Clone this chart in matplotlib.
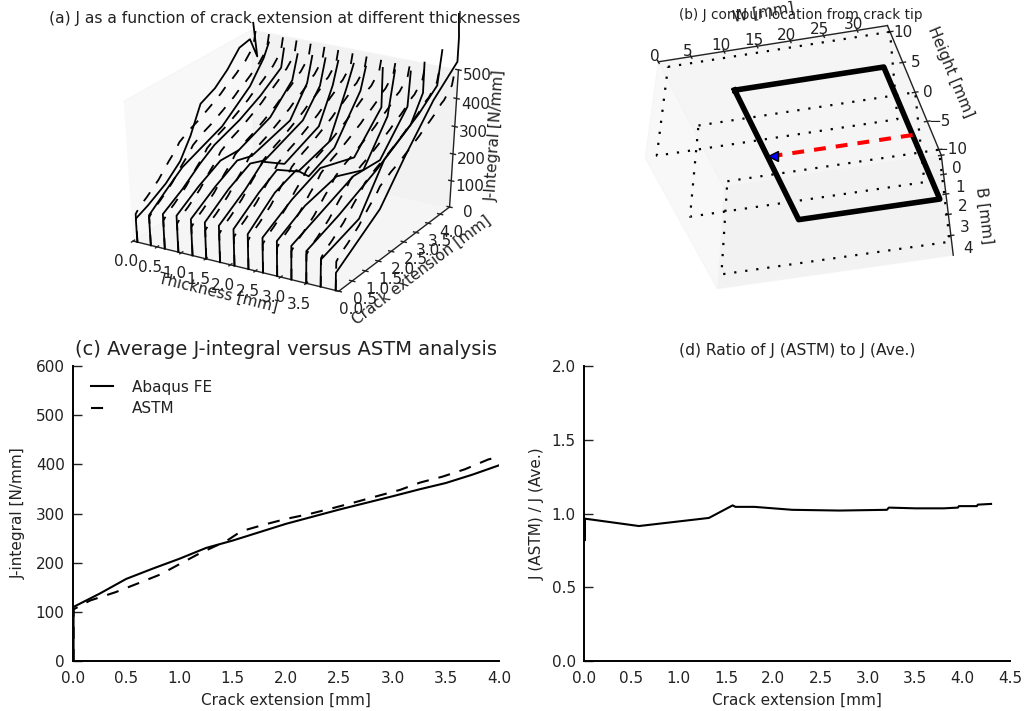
"""J-integral summary figure: 3D curves, contour location, average and ratio."""
import matplotlib
matplotlib.use('Agg')
import matplotlib.pyplot as plt
from mpl_toolkits.mplot3d import Axes3D  # noqa: F401

THICK = [0.09, 0.37, 0.66, 0.94, 1.23, 1.51, 1.79, 2.08, 2.36, 2.65, 2.93, 3.21, 3.50, 3.78, 4.07]

# crack extension and J per thickness station
CURVE_EXT = [
    [0, 0, 0.42, 1.06, 1.58, 1.97, 2.36, 2.88, 3.34, 3.79, 4.18, 4.44, 4.31],
    [0, 0, 0.55, 1.19, 1.84, 2.62, 3.66, 4.18, 4.38],
    [0, 0, 0.68, 1.32, 1.84, 2.75, 3.53, 4.31, 4.42],
    [0, 0, 0.78, 1.56, 2.21, 3.38, 4.22, 4.42],
    [0, 0, 0.87, 1.65, 2.17, 3.60, 4.25, 4.44],
    [0, 0, 0.84, 1.62, 2.14, 3.57, 4.22, 4.42],
    [0, 0, 0.94, 1.58, 2.36, 3.66, 4.18, 4.38],
    [0, 0, 0.91, 1.56, 2.34, 3.51, 4.16, 4.42],
    [0, 0, 0.97, 1.75, 2.21, 3.18, 4.16, 4.35],
    [0, 0, 1.06, 2.10, 3.40, 3.92, 4.44, 4.44],
    [0, 0, 1.01, 2.18, 3.22, 4.13, 4.36],
    [0, 0, 0.97, 2.27, 3.31, 4.35, 4.42],
    [0, 0, 1.17, 2.60, 3.90, 4.35, 4.35],
    [0, 0, 1.40, 2.31, 3.61, 4.32, 4.45],
    [0, 0, 1.61, 2.52, 3.56, 4.47, 4.47, 4.40],
]
CURVE_J = [
    [0, 88, 108, 147, 195, 263, 355, 380, 420, 473, 482, 406, 533],
    [0, 112, 158, 209, 236, 268, 352, 424, 469],
    [0, 129, 173, 225, 260, 294, 336, 392, 455],
    [0, 135, 189, 232, 228, 276, 362, 444],
    [0, 135, 195, 238, 221, 262, 360, 447],
    [0, 135, 198, 240, 218, 275, 362, 449],
    [0, 135, 202, 260, 202, 258, 376, 452],
    [0, 135, 205, 244, 187, 221, 378, 449],
    [0, 129, 212, 242, 189, 231, 378, 453],
    [0, 129, 194, 238, 193, 253, 312, 453],
    [0, 129, 186, 214, 169, 309, 459],
    [0, 124, 165, 220, 211, 341, 461],
    [0, 118, 164, 234, 313, 400, 506],
    [0, 100, 148, 300, 379, 438, 553],
    [0, 65, 181, 309, 441, 522, 605, 692],
]

# panel (c) average curve
AVG_EXT = [0.005, 0.005, 0.25, 0.5, 0.75, 1.0, 1.25, 1.5, 2.0, 2.5, 3.0, 3.25, 3.5, 3.75, 4.0]
AVG_J = [0, 110, 137, 167, 188, 208, 230, 245, 279, 308, 335, 349, 362, 379, 398]

# ASTM curve, same one at every thickness in panel (a)
ASTM_EXT = [0.005, 0.005, 0.16, 0.40, 0.60, 0.82, 1.00, 1.19, 1.44, 1.58, 1.79, 2.00, 2.22, 2.44, 2.65,
            2.85, 3.07, 3.26, 3.47, 3.68, 3.90, 4.00, 4.30, 4.40]
ASTM_J = [0, 105, 123, 140, 157, 176, 197, 219, 244, 264, 277, 289, 299, 311, 323,
          335, 348, 363, 375, 390, 410, 415, 450, 505]

# panel (d) ratio
RATIO_EXT = [0.01, 0.01, 0.58, 1.32, 1.57, 1.60, 1.80, 2.20, 2.70, 3.20, 3.22, 3.50, 3.80, 3.95, 3.96, 4.15, 4.16, 4.30]
RATIO = [0.82, 0.965, 0.915, 0.97, 1.055, 1.045, 1.045, 1.025, 1.02, 1.025, 1.04, 1.035, 1.035, 1.04, 1.05, 1.05, 1.06, 1.065]

# panel (b) contour geometry
W_LEVELS = [1, 34.5]
B_LEVELS = [0, 4.55]
HEIGHTS = [10, 0, -10]
BOX_W = [12, 33.5, 33.5, 12, 12]
BOX_H = [11, 11, -11, -11, 11]
CRACK_W = [33.5, 12.8]
CRACK_H = [0, 0]
B_MID = 2.2

plt.rcParams.update({'font.family': 'DejaVu Sans', 'font.size': 11,
                     'text.color': '#222222', 'axes.labelcolor': '#222222',
                     'xtick.color': '#222222', 'ytick.color': '#222222'})

fig = plt.figure(figsize=(10.25, 7.11), dpi=100)


def px_rect(x0, y0, x1, y1):
    return [x0 / 1025, 1 - y1 / 711, (x1 - x0) / 1025, (y1 - y0) / 711]


def stretch_3d(ax):
    # let the 3d box fill the whole axes rectangle instead of staying square
    def apply_aspect(position=None):
        ax._set_position(ax.get_position(original=True), 'active')
    ax.apply_aspect = apply_aspect


def style_3d(ax, aspect=(1, 1, 1), zoom=0.91):
    stretch_3d(ax)
    ax.set_box_aspect(aspect, zoom=zoom)
    ax.grid(False)
    panes = [(ax.xaxis, (0.95, 0.95, 0.95, 0.5)), (ax.yaxis, (0.90, 0.90, 0.90, 0.5)),
             (ax.zaxis, (0.925, 0.925, 0.925, 0.5))]
    for axis, col in panes:
        axis.set_pane_color(col)
        axis.pane.set_edgecolor((0.95, 0.95, 0.95, 0.5))
        axis.line.set_linewidth(1.0)
        axis.line.set_color('#222222')
        axis._axinfo['tick']['inward_factor'] = 0.15
        axis._axinfo['tick']['outward_factor'] = 0.15
        axis._axinfo['tick']['linewidth'] = {True: 1.0, False: 0.5}
    ax.patch.set_alpha(0)


# (a) J vs crack extension
ax = fig.add_axes(px_rect(75, 13, 501, 308), projection='3d')
style_3d(ax, zoom=0.94)
ax.view_init(elev=33, azim=-60)
for t, ext, j in zip(THICK, CURVE_EXT, CURVE_J):
    ax.plot([t] * len(ext), ext, j, color='k', lw=1.3)
    ax.plot([t] * len(ASTM_EXT), ASTM_EXT, ASTM_J, color='k', lw=1.3, ls=(0, (6, 6)))
ax.set_xlim(0, 4.13)
ax.set_ylim(0, 4.4)
ax.set_zlim(0, 500)
ax.set_xticks([0, 0.5, 1, 1.5, 2, 2.5, 3, 3.5])
ax.set_yticks([0, 0.5, 1, 1.5, 2, 2.5, 3, 3.5, 4])
ax.set_zticks([0, 100, 200, 300, 400, 500])
ax.set_xticklabels(['0.0', '0.5', '1.0', '1.5', '2.0', '2.5', '3.0', '3.5'])
ax.set_yticklabels(['0.0', '0.5', '1.0', '1.5', '2.0', '2.5', '3.0', '3.5', '4.0'])
ax.tick_params(axis='both', pad=0)
ax.set_xlabel('Thickness [mm]', labelpad=-4)
ax.set_ylabel('Crack extension [mm]', labelpad=-4)
ax.set_zlabel('J-Integral [N/mm]', labelpad=-3)
fig.text(284.5 / 1025, 1 - 18 / 711, '(a) J as a function of crack extension at different thicknesses',
         ha='center', va='center', fontsize=11.2)

# (b) contour location
ax = fig.add_axes(px_rect(584, 13, 1010, 308), projection='3d')
style_3d(ax, zoom=0.95)
ax.computed_zorder = False
ax.view_init(elev=-54, azim=-75)
for h in HEIGHTS:
    ax.plot([W_LEVELS[0], W_LEVELS[1], W_LEVELS[1], W_LEVELS[0], W_LEVELS[0]], [h] * 5,
            [B_LEVELS[0], B_LEVELS[0], B_LEVELS[1], B_LEVELS[1], B_LEVELS[0]],
            color='k', lw=1.6, ls=(0, (1, 4)), zorder=2)
ax.plot(BOX_W, BOX_H, [B_MID] * 5, color='k', lw=4, zorder=3)
ax.plot(CRACK_W, CRACK_H, [B_MID, B_MID], color='r', lw=2.9, ls=(0, (2.95, 2.5)), zorder=4)
ax.plot(CRACK_W[1:], CRACK_H[1:], [B_MID], marker='<', color='b', mec='k', ms=6.5, ls='none', zorder=5)
ax.set_xlim(0, 34.5)
ax.set_ylim(11, -11)
ax.set_zlim(4.9, 0)
ax.set_xticks([0, 5, 10, 15, 20, 25, 30])
ax.set_yticks([10, 5, 0, -5, -10])
ax.set_zticks([0, 1, 2, 3, 4])
ax.tick_params(axis='both', pad=0)
ax.set_xlabel('W [mm]', labelpad=-2)
ax.set_ylabel('Height [mm]', labelpad=1)
ax.set_zlabel('B [mm]', labelpad=-3)
fig.text(801 / 1025, 1 - 15 / 711, '(b) J contour location from crack tip', ha='center', va='center', fontsize=9.8)


def style_2d(ax):
    for sp in ('top', 'right'):
        ax.spines[sp].set_visible(False)
    for sp in ('left', 'bottom'):
        ax.spines[sp].set_linewidth(1.4)
    ax.tick_params(axis='y', direction='in', length=6.5, width=1.0, right=False, labelsize=11, pad=6)
    ax.tick_params(axis='x', length=0, top=False, labelsize=11, pad=7)


# (c) average vs ASTM
ax = fig.add_axes(px_rect(73, 366, 499, 661))
ax.plot(AVG_EXT, AVG_J, color='k', lw=1.5, label='Abaqus FE')
ax.plot(ASTM_EXT, ASTM_J, color='k', lw=1.5, ls=(0, (5.8, 4.8)), label='ASTM')
ax.set_xlim(0, 4)
ax.set_ylim(0, 600)
ax.set_xticks([0, 0.5, 1, 1.5, 2, 2.5, 3, 3.5, 4])
ax.set_xlabel('Crack extension [mm]', labelpad=5)
ax.set_ylabel('J-integral [N/mm]', labelpad=7)
ax.set_title('(c) Average J-integral versus ASTM analysis', fontsize=14, pad=8)
ax.legend(loc='upper left', bbox_to_anchor=(0.007, 1.006), frameon=False, fontsize=11, handlelength=1.4,
          handletextpad=1.25, borderaxespad=0.6, labelspacing=0.43)
style_2d(ax)

# (d) ratio
ax = fig.add_axes(px_rect(584, 366, 1010, 661))
ax.plot(RATIO_EXT, RATIO, color='k', lw=1.5)
ax.set_xlim(0, 4.5)
ax.set_ylim(0, 2)
ax.set_xticks([0, 0.5, 1, 1.5, 2, 2.5, 3, 3.5, 4, 4.5])
ax.set_yticks([0, 0.5, 1, 1.5, 2])
ax.set_xlabel('Crack extension [mm]', labelpad=5)
ax.set_ylabel('J (ASTM) / J (Ave.)', labelpad=5)
ax.set_title('(d) Ratio of J (ASTM) to J (Ave.)', fontsize=11.2, pad=8)
style_2d(ax)

fig.savefig('out.png', dpi=100)
